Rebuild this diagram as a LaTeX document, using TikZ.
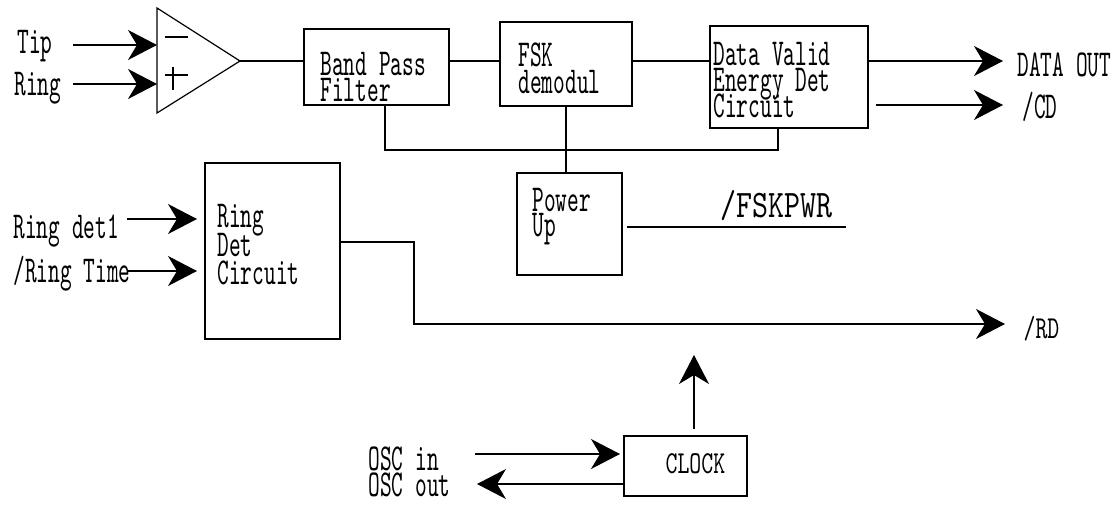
\documentclass[tikz,border=0pt]{standalone}
\usepackage{fontspec}
\usetikzlibrary{arrows.meta}
\newfontfamily\mfont{lmmono10-regular.otf}[FakeStretch=0.586]
\newfontfamily\sfontc{lmmono10-regular.otf}[FakeStretch=0.71]
\newfontfamily\wfont{lmmono10-regular.otf}[FakeStretch=0.78]
\begin{document}
\begin{tikzpicture}[x=1pt,y=-1pt,line width=1.2pt,
  box/.style={draw,rectangle,inner sep=0pt},
  txt/.style={anchor=base west,inner sep=0pt,font={\mfont\fontsize{38pt}{38pt}\selectfont}},
  stxt/.style={anchor=base west,inner sep=0pt,font={\sfontc\fontsize{32pt}{32pt}\selectfont}},
  wtxt/.style={anchor=base west,inner sep=0pt,font={\wfont\fontsize{39pt}{39pt}\selectfont}},
  arr/.style={-{Stealth[length=29pt,width=30pt,inset=9pt]}}]
\useasboundingbox (0,0) rectangle (1117,504);
% amplifier
\coordinate (ampA) at (157,8);
\coordinate (ampB) at (157,113);
\coordinate (ampout) at (240,61);
\coordinate (ampm) at (157,45);
\coordinate (ampp) at (157,84);
\draw (ampA) -- (ampout) -- (ampB) -- cycle;
\draw (165,37) -- (188,37);
\draw (165,75) -- (188,75);
\draw (173,67) -- (173,90);
% input labels
\node[txt] (tip) at (17,53) {Tip};
\node[txt] (ring) at (14,95) {Ring};
\coordinate (tipS) at (73,45);
\coordinate (ringS) at (73,84);
\draw[arr] (tipS) -- (ampm);
\draw[arr] (ringS) -- (ampp);
% boxes
\node[box,minimum width=145pt,minimum height=76pt] (bpf) at (376.5,67) {};
\node[box,minimum width=132pt,minimum height=84pt] (fsk) at (566,64) {};
\node[box,minimum width=158pt,minimum height=102pt] (dv) at (789,77) {};
\node[box,minimum width=105pt,minimum height=102pt] (pwr) at (569.5,224) {};
\node[box,minimum width=135pt,minimum height=176pt] (rdet) at (272.5,251) {};
\node[box,minimum width=123pt,minimum height=60pt] (clock) at (685.5,466) {};
% box texts
\node[txt] (t1) at (320,75) {Band Pass};
\node[txt] (t2) at (320,101) {Filter};
\node[txt] (t3) at (518,66) {FSK};
\node[txt] (t4) at (518,93) {demodul};
\node[txt] (t5) at (713,65) {Data Valid};
\node[txt] (t6) at (713,91) {Energy Det};
\node[txt] (t7) at (713,117) {Circuit};
\node[txt] (t8) at (532,211) {Power};
\node[txt] (t9) at (532,236) {Up};
\node[txt] (t10) at (217,227) {Ring};
\node[txt] (t11) at (217,256) {Det};
\node[txt] (t12) at (217,284) {Circuit};
\node[stxt] (t13) at (665,473) {CLOCK};
% main chain
\draw (ampout) -- (ampout -| bpf.west);
\draw (bpf.east |- ampout) -- (fsk.west |- ampout);
\draw (fsk.east |- ampout) -- (dv.west |- ampout);
% feedback
\draw ([xshift=8.5pt]bpf.south) |- (778,150) -- ([xshift=-11pt]dv.south);
\draw (fsk.south) -- (fsk.south |- pwr.north);
% outputs
\coordinate (doE) at (1003,61);
\coordinate (cdS) at (876,105);
\coordinate (cdE) at (1003,105);
\draw[arr] (dv.east |- doE) -- (doE);
\draw[arr] (cdS) -- (cdE);
\node[txt] (dataout) at (1017,76) {DATA OUT};
\node[txt] (cd) at (1022,118) {/CD};
% FSKPWR
\coordinate (fpS) at (627,227);
\coordinate (fpE) at (846,227);
\draw (fpS) -- (fpE);
\node[wtxt] (fskpwr) at (720,217) {/FSKPWR};
% ring det inputs
\node[txt] (rd1) at (13,238) {Ring det1};
\node[txt] (rt) at (13,282) {/Ring Time};
\coordinate (rd1S) at (127,219);
\coordinate (rd1E) at (197,219);
\coordinate (rtS) at (127,271);
\coordinate (rtE) at (197,271);
\draw[arr] (rd1S) -- (rd1E);
\draw[arr] (rtS) -- (rtE);
% RD output
\coordinate (rdE) at (1005,324);
\draw[arr] (rdet.east |- 0,242) -- (414,242) -- (414,324) -- (rdE);
\node[stxt] (rd) at (1023,338) {/RD};
% clock
\coordinate (ckT) at (694,355);
\draw[arr] ([xshift=8.5pt,yshift=6pt]clock.north) -- (ckT);
\coordinate (oiS) at (475,454);
\coordinate (oiE) at (620,454);
\coordinate (ooE) at (477,484);
\draw[arr] (oiS) -- (oiE);
\draw[arr] (clock.west |- ooE) -- (ooE);
\node[txt] (oscin) at (368,470) {OSC in};
\node[txt] (oscout) at (368,496) {OSC out};
\end{tikzpicture}
\end{document}
